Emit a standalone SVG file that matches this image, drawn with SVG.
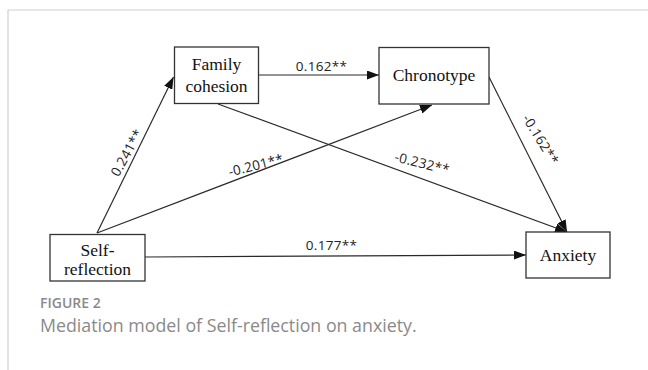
<svg xmlns="http://www.w3.org/2000/svg" width="648" height="370" viewBox="0 0 648 370">
<style>
.frame{stroke:#d0d0d0;stroke-width:1.2;fill:none}
.box{fill:#fff;stroke:#333;stroke-width:1.3}
.node{font-family:"Liberation Serif","Times New Roman",serif;font-size:17.5px;fill:#111;text-anchor:middle}
.edge{stroke:#2a2a2a;stroke-width:1.2;fill:none;marker-end:url(#ah)}
.lbl{font-family:"Open Sans","Liberation Sans",sans-serif;font-size:13.5px;fill:#222;text-anchor:middle;letter-spacing:0.3px}
.fig{font-family:"Open Sans","Liberation Sans",sans-serif;font-size:14px;font-weight:600;fill:#8a8a8a}
.cap{font-family:"Open Sans","Liberation Sans",sans-serif;font-size:17.8px;fill:#8a8a8a}
</style>
<defs>
<marker id="ah" viewBox="0 0 12 9" refX="12" refY="4.5" markerWidth="12" markerHeight="9" markerUnits="userSpaceOnUse" orient="auto">
<path d="M0,0 L12,4.5 L0,9 z" fill="#111"/>
</marker>
</defs>
<path class="frame" d="M8,370 V10 H648"/>
<g id="connectors">
<line class="edge" x1="97" y1="233" x2="173.5" y2="77"/>
<line class="edge" x1="97" y1="233" x2="432" y2="105"/>
<line class="edge" x1="258" y1="75" x2="379" y2="75"/>
<line class="edge" x1="218" y1="104" x2="567" y2="232"/>
<line class="edge" x1="489" y1="77" x2="567" y2="232"/>
<line class="edge" x1="145" y1="257" x2="526" y2="255"/>
<text class="lbl" x="321.5" y="71">0.162**</text>
<text class="lbl" transform="translate(127.5,153) rotate(-61)" y="4">0.241**</text>
<text class="lbl" transform="translate(256,166) rotate(-14)" y="4">-0.201**</text>
<text class="lbl" transform="translate(422,164) rotate(14)" y="4">-0.232**</text>
<text class="lbl" transform="translate(540,140) rotate(58)" y="4">-0.162**</text>
<text class="lbl" x="331.5" y="250">0.177**</text>
</g>
<g id="family">
<rect class="box" x="174.5" y="47" width="84" height="56.5"/>
<text class="node" x="216.5" y="70">Family</text>
<text class="node" x="216.5" y="91.5">cohesion</text>
</g>
<g id="chronotype">
<rect class="box" x="379" y="47.5" width="110" height="56.5"/>
<text class="node" x="434" y="81">Chronotype</text>
</g>
<g id="self">
<rect class="box" x="50" y="234.5" width="95" height="46.5"/>
<text class="node" x="97.5" y="255.5">Self-</text>
<text class="node" x="97.5" y="274.5">reflection</text>
</g>
<g id="anxiety">
<rect class="box" x="526" y="232" width="84" height="46"/>
<text class="node" x="568" y="261">Anxiety</text>
</g>
<text class="fig" x="40" y="308">FIGURE 2</text>
<text class="cap" x="40" y="332">Mediation model of Self-reflection on anxiety.</text>
</svg>
